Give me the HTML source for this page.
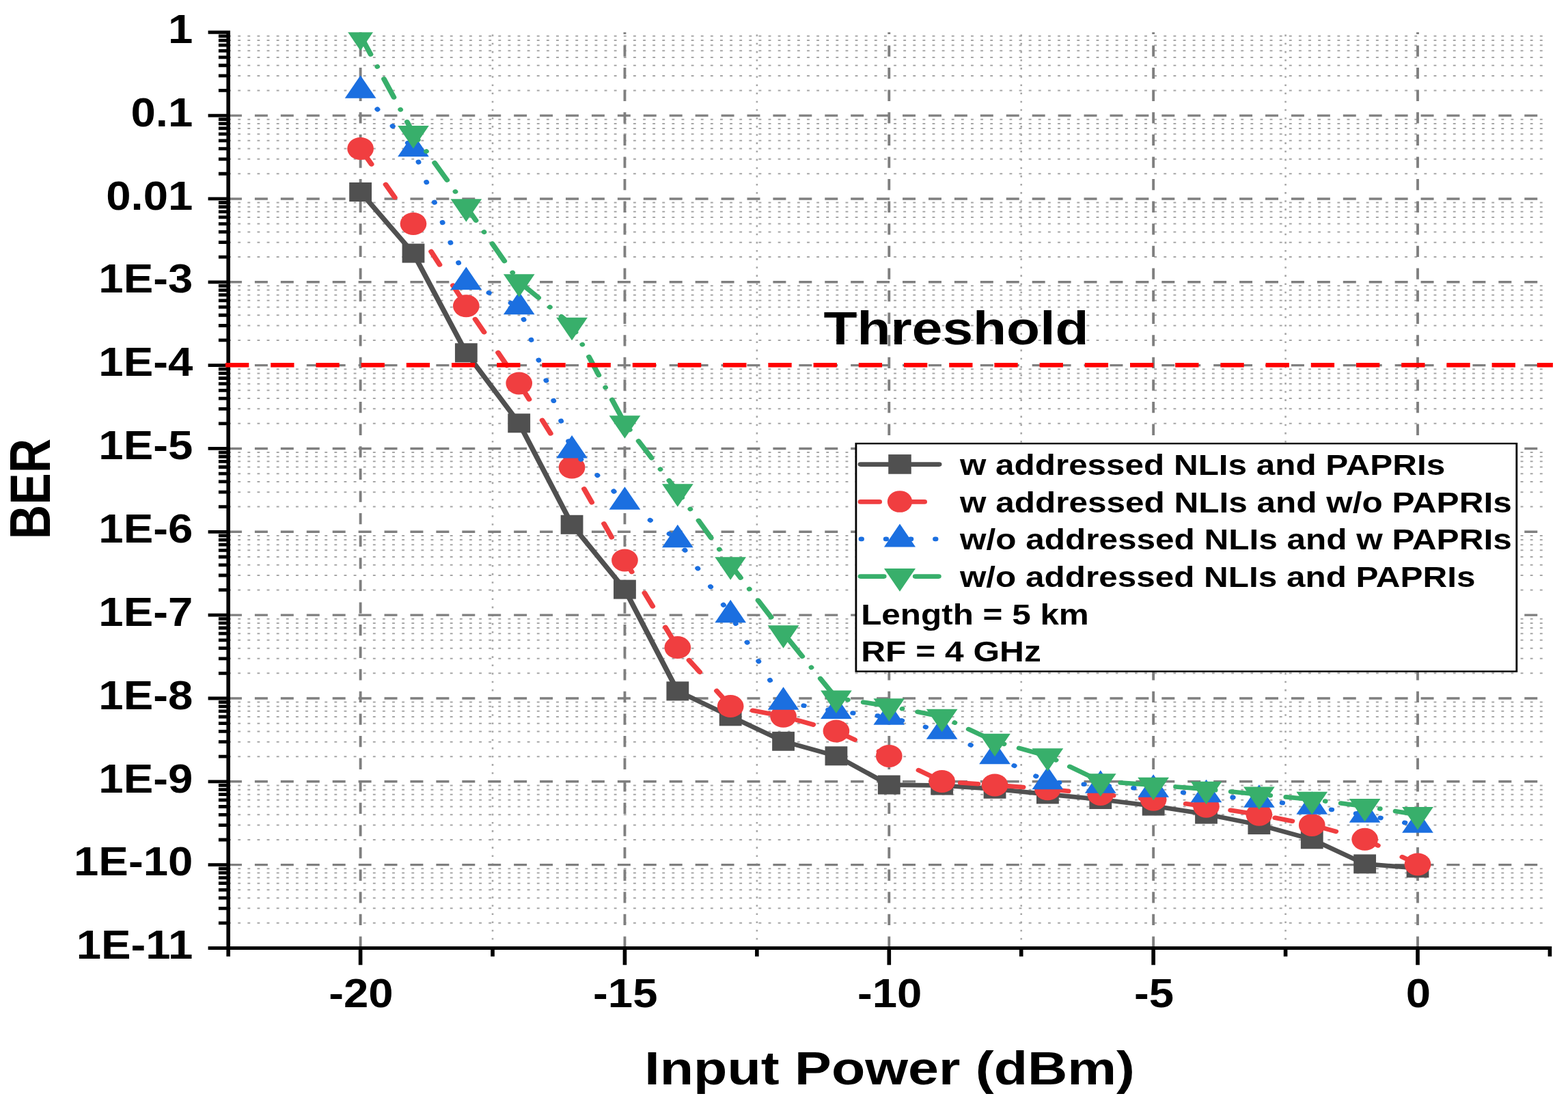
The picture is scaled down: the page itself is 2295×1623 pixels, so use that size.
<!DOCTYPE html>
<html><head><meta charset="utf-8"><title>BER vs Input Power</title>
<style>html,body{margin:0;padding:0;background:#fff;width:2295px;height:1623px;overflow:hidden}svg{display:block}</style>
</head><body>
<svg width="2295" height="1623" viewBox="0 0 2295 1623">
<rect x="0" y="0" width="2295" height="1623" fill="#ffffff"/>
<defs><clipPath id="pc"><rect x="255.13" y="47.26" width="1710.38" height="1380.24"/></clipPath></defs>
<g transform="scale(1.172,1)">
<path d="M285.08 132.42H1933.45M285.08 110.97H1933.45M285.08 95.75H1933.45M285.08 83.94H1933.45M285.08 74.29H1933.45M285.08 66.13H1933.45M285.08 59.07H1933.45M285.08 52.84H1933.45M285.08 254.26H1933.45M285.08 232.81H1933.45M285.08 217.59H1933.45M285.08 205.78H1933.45M285.08 196.13H1933.45M285.08 187.97H1933.45M285.08 180.91H1933.45M285.08 174.68H1933.45M285.08 376.10H1933.45M285.08 354.65H1933.45M285.08 339.43H1933.45M285.08 327.62H1933.45M285.08 317.97H1933.45M285.08 309.81H1933.45M285.08 302.75H1933.45M285.08 296.52H1933.45M285.08 497.94H1933.45M285.08 476.49H1933.45M285.08 461.27H1933.45M285.08 449.46H1933.45M285.08 439.81H1933.45M285.08 431.65H1933.45M285.08 424.59H1933.45M285.08 418.36H1933.45M285.08 619.78H1933.45M285.08 598.33H1933.45M285.08 583.11H1933.45M285.08 571.30H1933.45M285.08 561.65H1933.45M285.08 553.49H1933.45M285.08 546.43H1933.45M285.08 540.20H1933.45M285.08 741.62H1933.45M285.08 720.17H1933.45M285.08 704.95H1933.45M285.08 693.14H1933.45M285.08 683.49H1933.45M285.08 675.33H1933.45M285.08 668.27H1933.45M285.08 662.04H1933.45M285.08 863.46H1933.45M285.08 842.01H1933.45M285.08 826.79H1933.45M285.08 814.98H1933.45M285.08 805.33H1933.45M285.08 797.17H1933.45M285.08 790.11H1933.45M285.08 783.88H1933.45M285.08 985.30H1933.45M285.08 963.85H1933.45M285.08 948.63H1933.45M285.08 936.82H1933.45M285.08 927.17H1933.45M285.08 919.01H1933.45M285.08 911.95H1933.45M285.08 905.72H1933.45M285.08 1107.14H1933.45M285.08 1085.69H1933.45M285.08 1070.47H1933.45M285.08 1058.66H1933.45M285.08 1049.01H1933.45M285.08 1040.85H1933.45M285.08 1033.79H1933.45M285.08 1027.56H1933.45M285.08 1228.98H1933.45M285.08 1207.53H1933.45M285.08 1192.31H1933.45M285.08 1180.50H1933.45M285.08 1170.85H1933.45M285.08 1162.69H1933.45M285.08 1155.63H1933.45M285.08 1149.40H1933.45M285.08 1350.82H1933.45M285.08 1329.37H1933.45M285.08 1314.15H1933.45M285.08 1302.34H1933.45M285.08 1292.69H1933.45M285.08 1284.53H1933.45M285.08 1277.47H1933.45M285.08 1271.24H1933.45" stroke="#a6a6a6" stroke-width="2" stroke-dasharray="3.3 8.744" fill="none"/>
<path d="M615.21 1387.50V47.26M945.29 1387.50V47.26M1275.36 1387.50V47.26M1605.44 1387.50V47.26" stroke="#a6a6a6" stroke-width="2.2" stroke-dasharray="2.6 9.53" fill="none"/>
<path d="M285.81 169.10H1935.52M285.81 290.94H1935.52M285.81 412.78H1935.52M285.81 534.62H1935.52M285.81 656.46H1935.52M285.81 778.30H1935.52M285.81 900.14H1935.52M285.81 1021.98H1935.52M285.81 1143.82H1935.52M285.81 1265.66H1935.52" stroke="#7f7f7f" stroke-width="3.4" stroke-dasharray="16.2 16.16" fill="none"/>
<path d="M450.17 1386.70V47.26M780.25 1386.70V47.26M1110.32 1386.70V47.26M1440.40 1386.70V47.26M1770.48 1386.70V47.26" stroke="#7f7f7f" stroke-width="3.3" stroke-dasharray="16.3 16.3" fill="none"/>
<g clip-path="url(#pc)">
<path d="M450.17 281.00 L516.19 370.60 L582.20 516.30 L648.22 619.30 L714.23 767.80 L780.25 862.60 L846.26 1011.40 L912.28 1048.30 L978.29 1084.80 L1044.31 1106.30 L1110.32 1148.60 L1176.34 1149.50 L1242.35 1154.70 L1308.37 1162.40 L1374.39 1170.00 L1440.40 1179.60 L1506.42 1191.60 L1572.43 1207.10 L1638.45 1228.30 L1704.46 1264.40 L1770.48 1270.40" stroke="#505050" stroke-width="6.6" fill="none" stroke-linejoin="round" stroke-linecap="round"/>
<rect x="436.17" y="267.00" width="28.0" height="28.0" fill="#505050"/><rect x="502.19" y="356.60" width="28.0" height="28.0" fill="#505050"/><rect x="568.20" y="502.30" width="28.0" height="28.0" fill="#505050"/><rect x="634.22" y="605.30" width="28.0" height="28.0" fill="#505050"/><rect x="700.23" y="753.80" width="28.0" height="28.0" fill="#505050"/><rect x="766.25" y="848.60" width="28.0" height="28.0" fill="#505050"/><rect x="832.26" y="997.40" width="28.0" height="28.0" fill="#505050"/><rect x="898.28" y="1034.30" width="28.0" height="28.0" fill="#505050"/><rect x="964.29" y="1070.80" width="28.0" height="28.0" fill="#505050"/><rect x="1030.31" y="1092.30" width="28.0" height="28.0" fill="#505050"/><rect x="1096.32" y="1134.60" width="28.0" height="28.0" fill="#505050"/><rect x="1162.34" y="1135.50" width="28.0" height="28.0" fill="#505050"/><rect x="1228.35" y="1140.70" width="28.0" height="28.0" fill="#505050"/><rect x="1294.37" y="1148.40" width="28.0" height="28.0" fill="#505050"/><rect x="1360.39" y="1156.00" width="28.0" height="28.0" fill="#505050"/><rect x="1426.40" y="1165.60" width="28.0" height="28.0" fill="#505050"/><rect x="1492.42" y="1177.60" width="28.0" height="28.0" fill="#505050"/><rect x="1558.43" y="1193.10" width="28.0" height="28.0" fill="#505050"/><rect x="1624.45" y="1214.30" width="28.0" height="28.0" fill="#505050"/><rect x="1690.46" y="1250.40" width="28.0" height="28.0" fill="#505050"/><rect x="1756.48" y="1256.40" width="28.0" height="28.0" fill="#505050"/>
<path d="M450.17 217.50 L516.19 327.50 L582.20 447.80 L648.22 560.90 L714.23 684.10 L780.25 819.90 L846.26 947.60 L912.28 1033.60 L978.29 1048.30 L1044.31 1069.90 L1110.32 1106.40 L1176.34 1143.60 L1242.35 1148.90 L1308.37 1154.80 L1374.39 1162.40 L1440.40 1170.20 L1506.42 1180.20 L1572.43 1192.20 L1638.45 1207.40 L1704.46 1228.30 L1770.48 1264.90" stroke="#f03e40" stroke-width="6.6" fill="none" stroke-linecap="round" stroke-dasharray="22 34.65" stroke-dashoffset="-4.6"/>
<circle cx="450.17" cy="217.50" r="16.5" fill="#f03e40"/><circle cx="516.19" cy="327.50" r="16.5" fill="#f03e40"/><circle cx="582.20" cy="447.80" r="16.5" fill="#f03e40"/><circle cx="648.22" cy="560.90" r="16.5" fill="#f03e40"/><circle cx="714.23" cy="684.10" r="16.5" fill="#f03e40"/><circle cx="780.25" cy="819.90" r="16.5" fill="#f03e40"/><circle cx="846.26" cy="947.60" r="16.5" fill="#f03e40"/><circle cx="912.28" cy="1033.60" r="16.5" fill="#f03e40"/><circle cx="978.29" cy="1048.30" r="16.5" fill="#f03e40"/><circle cx="1044.31" cy="1069.90" r="16.5" fill="#f03e40"/><circle cx="1110.32" cy="1106.40" r="16.5" fill="#f03e40"/><circle cx="1176.34" cy="1143.60" r="16.5" fill="#f03e40"/><circle cx="1242.35" cy="1148.90" r="16.5" fill="#f03e40"/><circle cx="1308.37" cy="1154.80" r="16.5" fill="#f03e40"/><circle cx="1374.39" cy="1162.40" r="16.5" fill="#f03e40"/><circle cx="1440.40" cy="1170.20" r="16.5" fill="#f03e40"/><circle cx="1506.42" cy="1180.20" r="16.5" fill="#f03e40"/><circle cx="1572.43" cy="1192.20" r="16.5" fill="#f03e40"/><circle cx="1638.45" cy="1207.40" r="16.5" fill="#f03e40"/><circle cx="1704.46" cy="1228.30" r="16.5" fill="#f03e40"/><circle cx="1770.48" cy="1264.90" r="16.5" fill="#f03e40"/>
<path d="M450.17 132.58 L516.19 218.18 L582.20 412.88 L648.22 448.98 L714.23 659.38 L780.25 734.58 L846.26 789.98 L912.28 899.98 L978.29 1027.58 L1044.31 1040.78 L1110.32 1049.48 L1176.34 1070.48 L1242.35 1106.98 L1308.37 1144.08 L1374.39 1149.48 L1440.40 1155.58 L1506.42 1163.18 L1572.43 1170.58 L1638.45 1180.58 L1704.46 1192.48 L1770.48 1207.68" stroke="#1b6fe0" stroke-width="6.6" fill="none" stroke-linecap="round" stroke-dasharray="0.5 30.65" stroke-dashoffset="-3.25"/>
<path d="M450.17 110.25L469.67 143.75L430.67 143.75Z" fill="#1b6fe0"/><path d="M516.19 195.85L535.69 229.35L496.69 229.35Z" fill="#1b6fe0"/><path d="M582.20 390.55L601.70 424.05L562.70 424.05Z" fill="#1b6fe0"/><path d="M648.22 426.65L667.72 460.15L628.72 460.15Z" fill="#1b6fe0"/><path d="M714.23 637.05L733.73 670.55L694.73 670.55Z" fill="#1b6fe0"/><path d="M780.25 712.25L799.75 745.75L760.75 745.75Z" fill="#1b6fe0"/><path d="M846.26 767.65L865.76 801.15L826.76 801.15Z" fill="#1b6fe0"/><path d="M912.28 877.65L931.78 911.15L892.78 911.15Z" fill="#1b6fe0"/><path d="M978.29 1005.25L997.79 1038.75L958.79 1038.75Z" fill="#1b6fe0"/><path d="M1044.31 1018.45L1063.81 1051.95L1024.81 1051.95Z" fill="#1b6fe0"/><path d="M1110.32 1027.15L1129.82 1060.65L1090.82 1060.65Z" fill="#1b6fe0"/><path d="M1176.34 1048.15L1195.84 1081.65L1156.84 1081.65Z" fill="#1b6fe0"/><path d="M1242.35 1084.65L1261.85 1118.15L1222.85 1118.15Z" fill="#1b6fe0"/><path d="M1308.37 1121.75L1327.87 1155.25L1288.87 1155.25Z" fill="#1b6fe0"/><path d="M1374.39 1127.15L1393.89 1160.65L1354.89 1160.65Z" fill="#1b6fe0"/><path d="M1440.40 1133.25L1459.90 1166.75L1420.90 1166.75Z" fill="#1b6fe0"/><path d="M1506.42 1140.85L1525.92 1174.35L1486.92 1174.35Z" fill="#1b6fe0"/><path d="M1572.43 1148.25L1591.93 1181.75L1552.93 1181.75Z" fill="#1b6fe0"/><path d="M1638.45 1158.25L1657.95 1191.75L1618.95 1191.75Z" fill="#1b6fe0"/><path d="M1704.46 1170.15L1723.96 1203.65L1684.96 1203.65Z" fill="#1b6fe0"/><path d="M1770.48 1185.35L1789.98 1218.85L1750.98 1218.85Z" fill="#1b6fe0"/>
<path d="M450.17 51.82 L516.19 195.22 L582.20 302.32 L648.22 412.42 L714.23 475.92 L780.25 619.52 L846.26 719.42 L912.28 826.42 L978.29 926.42 L1044.31 1021.62 L1110.32 1033.42 L1176.34 1048.82 L1242.35 1085.02 L1308.37 1106.42 L1374.39 1143.52 L1440.40 1148.82 L1506.42 1154.92 L1572.43 1162.62 L1638.45 1170.02 L1704.46 1180.12 L1770.48 1192.22" stroke="#38af6b" stroke-width="6.6" fill="none" stroke-linecap="round" stroke-dasharray="29.6 19.8 0.01 19.79" stroke-dashoffset="-0.9"/>
<path d="M430.67 40.65L469.67 40.65L450.17 74.15Z" fill="#38af6b"/><path d="M496.69 184.05L535.69 184.05L516.19 217.55Z" fill="#38af6b"/><path d="M562.70 291.15L601.70 291.15L582.20 324.65Z" fill="#38af6b"/><path d="M628.72 401.25L667.72 401.25L648.22 434.75Z" fill="#38af6b"/><path d="M694.73 464.75L733.73 464.75L714.23 498.25Z" fill="#38af6b"/><path d="M760.75 608.35L799.75 608.35L780.25 641.85Z" fill="#38af6b"/><path d="M826.76 708.25L865.76 708.25L846.26 741.75Z" fill="#38af6b"/><path d="M892.78 815.25L931.78 815.25L912.28 848.75Z" fill="#38af6b"/><path d="M958.79 915.25L997.79 915.25L978.29 948.75Z" fill="#38af6b"/><path d="M1024.81 1010.45L1063.81 1010.45L1044.31 1043.95Z" fill="#38af6b"/><path d="M1090.82 1022.25L1129.82 1022.25L1110.32 1055.75Z" fill="#38af6b"/><path d="M1156.84 1037.65L1195.84 1037.65L1176.34 1071.15Z" fill="#38af6b"/><path d="M1222.85 1073.85L1261.85 1073.85L1242.35 1107.35Z" fill="#38af6b"/><path d="M1288.87 1095.25L1327.87 1095.25L1308.37 1128.75Z" fill="#38af6b"/><path d="M1354.89 1132.35L1393.89 1132.35L1374.39 1165.85Z" fill="#38af6b"/><path d="M1420.90 1137.65L1459.90 1137.65L1440.40 1171.15Z" fill="#38af6b"/><path d="M1486.92 1143.75L1525.92 1143.75L1506.42 1177.25Z" fill="#38af6b"/><path d="M1552.93 1151.45L1591.93 1151.45L1572.43 1184.95Z" fill="#38af6b"/><path d="M1618.95 1158.85L1657.95 1158.85L1638.45 1192.35Z" fill="#38af6b"/><path d="M1684.96 1168.95L1723.96 1168.95L1704.46 1202.45Z" fill="#38af6b"/><path d="M1750.98 1181.05L1789.98 1181.05L1770.48 1214.55Z" fill="#38af6b"/>
</g>
<path d="M285.13 44.86V1389.90M259.90 1387.50H1937.92M259.90 47.26H285.13M272.95 132.42H285.13M272.95 110.97H285.13M272.95 95.75H285.13M272.95 83.94H285.13M272.95 74.29H285.13M272.95 66.13H285.13M272.95 59.07H285.13M272.95 52.84H285.13M259.90 169.10H285.13M272.95 254.26H285.13M272.95 232.81H285.13M272.95 217.59H285.13M272.95 205.78H285.13M272.95 196.13H285.13M272.95 187.97H285.13M272.95 180.91H285.13M272.95 174.68H285.13M259.90 290.94H285.13M272.95 376.10H285.13M272.95 354.65H285.13M272.95 339.43H285.13M272.95 327.62H285.13M272.95 317.97H285.13M272.95 309.81H285.13M272.95 302.75H285.13M272.95 296.52H285.13M259.90 412.78H285.13M272.95 497.94H285.13M272.95 476.49H285.13M272.95 461.27H285.13M272.95 449.46H285.13M272.95 439.81H285.13M272.95 431.65H285.13M272.95 424.59H285.13M272.95 418.36H285.13M259.90 534.62H285.13M272.95 619.78H285.13M272.95 598.33H285.13M272.95 583.11H285.13M272.95 571.30H285.13M272.95 561.65H285.13M272.95 553.49H285.13M272.95 546.43H285.13M272.95 540.20H285.13M259.90 656.46H285.13M272.95 741.62H285.13M272.95 720.17H285.13M272.95 704.95H285.13M272.95 693.14H285.13M272.95 683.49H285.13M272.95 675.33H285.13M272.95 668.27H285.13M272.95 662.04H285.13M259.90 778.30H285.13M272.95 863.46H285.13M272.95 842.01H285.13M272.95 826.79H285.13M272.95 814.98H285.13M272.95 805.33H285.13M272.95 797.17H285.13M272.95 790.11H285.13M272.95 783.88H285.13M259.90 900.14H285.13M272.95 985.30H285.13M272.95 963.85H285.13M272.95 948.63H285.13M272.95 936.82H285.13M272.95 927.17H285.13M272.95 919.01H285.13M272.95 911.95H285.13M272.95 905.72H285.13M259.90 1021.98H285.13M272.95 1107.14H285.13M272.95 1085.69H285.13M272.95 1070.47H285.13M272.95 1058.66H285.13M272.95 1049.01H285.13M272.95 1040.85H285.13M272.95 1033.79H285.13M272.95 1027.56H285.13M259.90 1143.82H285.13M272.95 1228.98H285.13M272.95 1207.53H285.13M272.95 1192.31H285.13M272.95 1180.50H285.13M272.95 1170.85H285.13M272.95 1162.69H285.13M272.95 1155.63H285.13M272.95 1149.40H285.13M259.90 1265.66H285.13M272.95 1350.82H285.13M272.95 1329.37H285.13M272.95 1314.15H285.13M272.95 1302.34H285.13M272.95 1292.69H285.13M272.95 1284.53H285.13M272.95 1277.47H285.13M272.95 1271.24H285.13M259.90 1387.50H285.13M450.17 1387.50V1412.2M780.25 1387.50V1412.2M1110.32 1387.50V1412.2M1440.40 1387.50V1412.2M1770.48 1387.50V1412.2M285.13 1387.50V1399.8M615.21 1387.50V1399.8M945.29 1387.50V1399.8M1275.36 1387.50V1399.8M1605.44 1387.50V1399.8M1935.52 1387.50V1399.8" stroke="#000" stroke-width="4.8" fill="none"/>
<path d="M281.57 534.2H1939.33" stroke="#ff0000" stroke-width="6.4" fill="none" stroke-dasharray="29.266 27.218"/>
<rect x="1069.03" y="649.10" width="825.00" height="333.50" fill="#fff" stroke="#000" stroke-width="2.4"/>
<path d="M1074.66 679.6H1172.87" stroke="#505050" stroke-width="6.6" stroke-linecap="round"/>
<rect x="1109.42" y="665.10" width="28.6" height="28.6" fill="#505050"/>
<path d="M1074.66 734.4H1172.87" stroke="#f03e40" stroke-width="6.6" stroke-linecap="round" stroke-dasharray="23.6 32.7"/>
<ellipse cx="1123.72" cy="734" rx="15.5" ry="15.85" fill="#f03e40"/>
<path d="M1075.51 788.9H1168.94" stroke="#1b6fe0" stroke-width="6.6" stroke-linecap="round" stroke-dasharray="0.5 30.36"/>
<path d="M1123.72 766.50L1143.37 800.50L1104.07 800.50Z" fill="#1b6fe0"/>
<path d="M1074.66 843.6H1172.87" stroke="#38af6b" stroke-width="6.6" stroke-linecap="round" stroke-dasharray="29.2 19.6 0.01 19.6"/>
<path d="M1104.07 832.00L1143.37 832.00L1123.72 865.70Z" fill="#38af6b"/>
</g>
<text transform="translate(282.3 62.96) scale(1.15 1.035)" text-anchor="end" font-size="56.8" font-family="'Liberation Sans', Arial, sans-serif" font-weight="bold">1</text>
<text transform="translate(282.3 184.80) scale(1.15 1.035)" text-anchor="end" font-size="56.8" font-family="'Liberation Sans', Arial, sans-serif" font-weight="bold">0.1</text>
<text transform="translate(282.3 306.64) scale(1.15 1.035)" text-anchor="end" font-size="56.8" font-family="'Liberation Sans', Arial, sans-serif" font-weight="bold">0.01</text>
<text transform="translate(282.3 428.48) scale(1.15 1.035)" text-anchor="end" font-size="56.8" font-family="'Liberation Sans', Arial, sans-serif" font-weight="bold">1E-3</text>
<text transform="translate(282.3 550.32) scale(1.15 1.035)" text-anchor="end" font-size="56.8" font-family="'Liberation Sans', Arial, sans-serif" font-weight="bold">1E-4</text>
<text transform="translate(282.3 672.16) scale(1.15 1.035)" text-anchor="end" font-size="56.8" font-family="'Liberation Sans', Arial, sans-serif" font-weight="bold">1E-5</text>
<text transform="translate(282.3 794.00) scale(1.15 1.035)" text-anchor="end" font-size="56.8" font-family="'Liberation Sans', Arial, sans-serif" font-weight="bold">1E-6</text>
<text transform="translate(282.3 915.84) scale(1.15 1.035)" text-anchor="end" font-size="56.8" font-family="'Liberation Sans', Arial, sans-serif" font-weight="bold">1E-7</text>
<text transform="translate(282.3 1037.68) scale(1.15 1.035)" text-anchor="end" font-size="56.8" font-family="'Liberation Sans', Arial, sans-serif" font-weight="bold">1E-8</text>
<text transform="translate(282.3 1159.52) scale(1.15 1.035)" text-anchor="end" font-size="56.8" font-family="'Liberation Sans', Arial, sans-serif" font-weight="bold">1E-9</text>
<text transform="translate(282.3 1281.36) scale(1.15 1.035)" text-anchor="end" font-size="56.8" font-family="'Liberation Sans', Arial, sans-serif" font-weight="bold">1E-10</text>
<text transform="translate(282.3 1403.20) scale(1.15 1.035)" text-anchor="end" font-size="56.8" font-family="'Liberation Sans', Arial, sans-serif" font-weight="bold">1E-11</text>
<text transform="translate(528.40 1474.3) scale(1.15 1.035)" text-anchor="middle" font-size="56.8" font-family="'Liberation Sans', Arial, sans-serif" font-weight="bold">-20</text>
<text transform="translate(915.25 1474.3) scale(1.15 1.035)" text-anchor="middle" font-size="56.8" font-family="'Liberation Sans', Arial, sans-serif" font-weight="bold">-15</text>
<text transform="translate(1302.10 1474.3) scale(1.15 1.035)" text-anchor="middle" font-size="56.8" font-family="'Liberation Sans', Arial, sans-serif" font-weight="bold">-10</text>
<text transform="translate(1688.95 1474.3) scale(1.15 1.035)" text-anchor="middle" font-size="56.8" font-family="'Liberation Sans', Arial, sans-serif" font-weight="bold">-5</text>
<text transform="translate(2075.80 1474.3) scale(1.15 1.035)" text-anchor="middle" font-size="56.8" font-family="'Liberation Sans', Arial, sans-serif" font-weight="bold">0</text>
<text transform="translate(943.35 1586.60) scale(1.1668 1.0)" font-size="69.2" font-family="'Liberation Sans', Arial, sans-serif" font-weight="bold">Input Power (dBm)</text>
<text transform="translate(1205.50 504.20) scale(1.1600 1.0)" font-size="69.2" font-family="'Liberation Sans', Arial, sans-serif" font-weight="bold">Threshold</text>
<text transform="translate(73.4 789.13) scale(1.1914 1) rotate(-90)" font-size="69.7" font-family="'Liberation Sans', Arial, sans-serif" font-weight="bold">BER</text>
<text transform="translate(1404.90 695.00) scale(1.1631 1.0)" font-size="42.5" font-family="'Liberation Sans', Arial, sans-serif" font-weight="bold">w addressed NLIs and PAPRIs</text>
<text transform="translate(1404.90 749.70) scale(1.1651 1.0)" font-size="42.5" font-family="'Liberation Sans', Arial, sans-serif" font-weight="bold">w addressed NLIs and w/o PAPRIs</text>
<text transform="translate(1404.90 804.30) scale(1.1651 1.0)" font-size="42.5" font-family="'Liberation Sans', Arial, sans-serif" font-weight="bold">w/o addressed NLIs and w PAPRIs</text>
<text transform="translate(1404.90 858.80) scale(1.1636 1.0)" font-size="42.5" font-family="'Liberation Sans', Arial, sans-serif" font-weight="bold">w/o addressed NLIs and PAPRIs</text>
<text transform="translate(1260.19 913.50) scale(1.1632 1.0)" font-size="42.5" font-family="'Liberation Sans', Arial, sans-serif" font-weight="bold">Length = 5 km</text>
<text transform="translate(1260.17 967.60) scale(1.1686 1.0)" font-size="42.5" font-family="'Liberation Sans', Arial, sans-serif" font-weight="bold">RF = 4 GHz</text>
</svg>
</body></html>
